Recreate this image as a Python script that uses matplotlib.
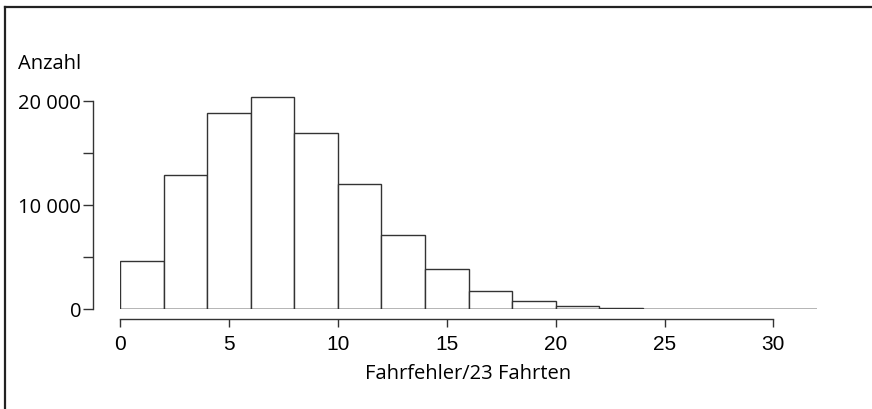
import matplotlib

matplotlib.use("Agg")
import matplotlib.pyplot as plt
from matplotlib.lines import Line2D
from matplotlib.ticker import FixedLocator

# histogram of driving errors per 23 drives, bin width 2
bin_edges = [0, 2, 4, 6, 8, 10, 12, 14, 16, 18, 20, 22, 24, 26, 28, 30, 32]
counts = [4600, 12900, 18850, 20400, 16900, 12000, 7150, 3850, 1700, 770, 290, 100, 0, 0, 0, 0]
x_ticks = [0, 5, 10, 15, 20, 25, 30]
y_major = [0, 10000, 20000]
y_major_labels = ["0", "10 000", "20 000"]
y_minor = [5000, 15000]

W, H = 872, 410
LINE = "#333333"
TEXT_FONT = ["Open Sans", "DejaVu Sans"]
NUM_FONT = ["Liberation Sans", "DejaVu Sans"]

fig = plt.figure(figsize=(W / 100, H / 100), dpi=100)
# axes in pixel terms: x 0..32 -> 120..817, y 0..21000 -> 310..91.6
ax = fig.add_axes([120 / W, (H - 310) / H, (817 - 120) / W, (310 - 91.6) / H])

widths = [b - a for a, b in zip(bin_edges[:-1], bin_edges[1:])]
ax.bar(bin_edges[:-1], counts, width=widths, align="edge",
       facecolor="white", edgecolor=LINE, linewidth=1.0)
ax.hlines(0, bin_edges[0], bin_edges[-1], color=LINE, linewidth=1.0)

ax.set_xlim(bin_edges[0], bin_edges[-1])
ax.set_ylim(0, 21000)

for side in ["top", "right"]:
    ax.spines[side].set_visible(False)
ax.spines["left"].set_position(("outward", 27 * 0.72))
ax.spines["bottom"].set_position(("outward", 10 * 0.72))
ax.spines["left"].set_bounds(0, 20000)
ax.spines["bottom"].set_bounds(0, 30)
for side in ["left", "bottom"]:
    ax.spines[side].set_color(LINE)
    ax.spines[side].set_linewidth(1.0)

ax.set_xticks(x_ticks)
ax.set_xticklabels([str(t) for t in x_ticks], fontfamily=NUM_FONT, fontsize=15)
ax.set_yticks(y_major)
ax.set_yticklabels(y_major_labels, fontfamily=TEXT_FONT, fontsize=14.5)
ax.yaxis.set_minor_locator(FixedLocator(y_minor))
ax.tick_params(axis="both", which="both", direction="out", width=1.0, color=LINE)
ax.tick_params(axis="x", length=6, pad=5)
ax.tick_params(axis="y", which="both", length=7, pad=1.5)

ax.set_xlabel("Fahrfehler/23 Fahrten", fontfamily=TEXT_FONT, fontsize=14.5, labelpad=7)
fig.text(18 / W, (H - 69) / H, "Anzahl", fontfamily=TEXT_FONT, fontsize=14.5,
         ha="left", va="baseline")

# frame lines along the top and left edge of the image
fig.add_artist(Line2D([4.5 / W, 1], [(H - 7.5) / H, (H - 7.5) / H],
                      transform=fig.transFigure, color="#222222", linewidth=1.6))
fig.add_artist(Line2D([4.5 / W, 4.5 / W], [0, (H - 7.5) / H],
                      transform=fig.transFigure, color="#222222", linewidth=1.6))

fig.savefig("out.png", dpi=100)
